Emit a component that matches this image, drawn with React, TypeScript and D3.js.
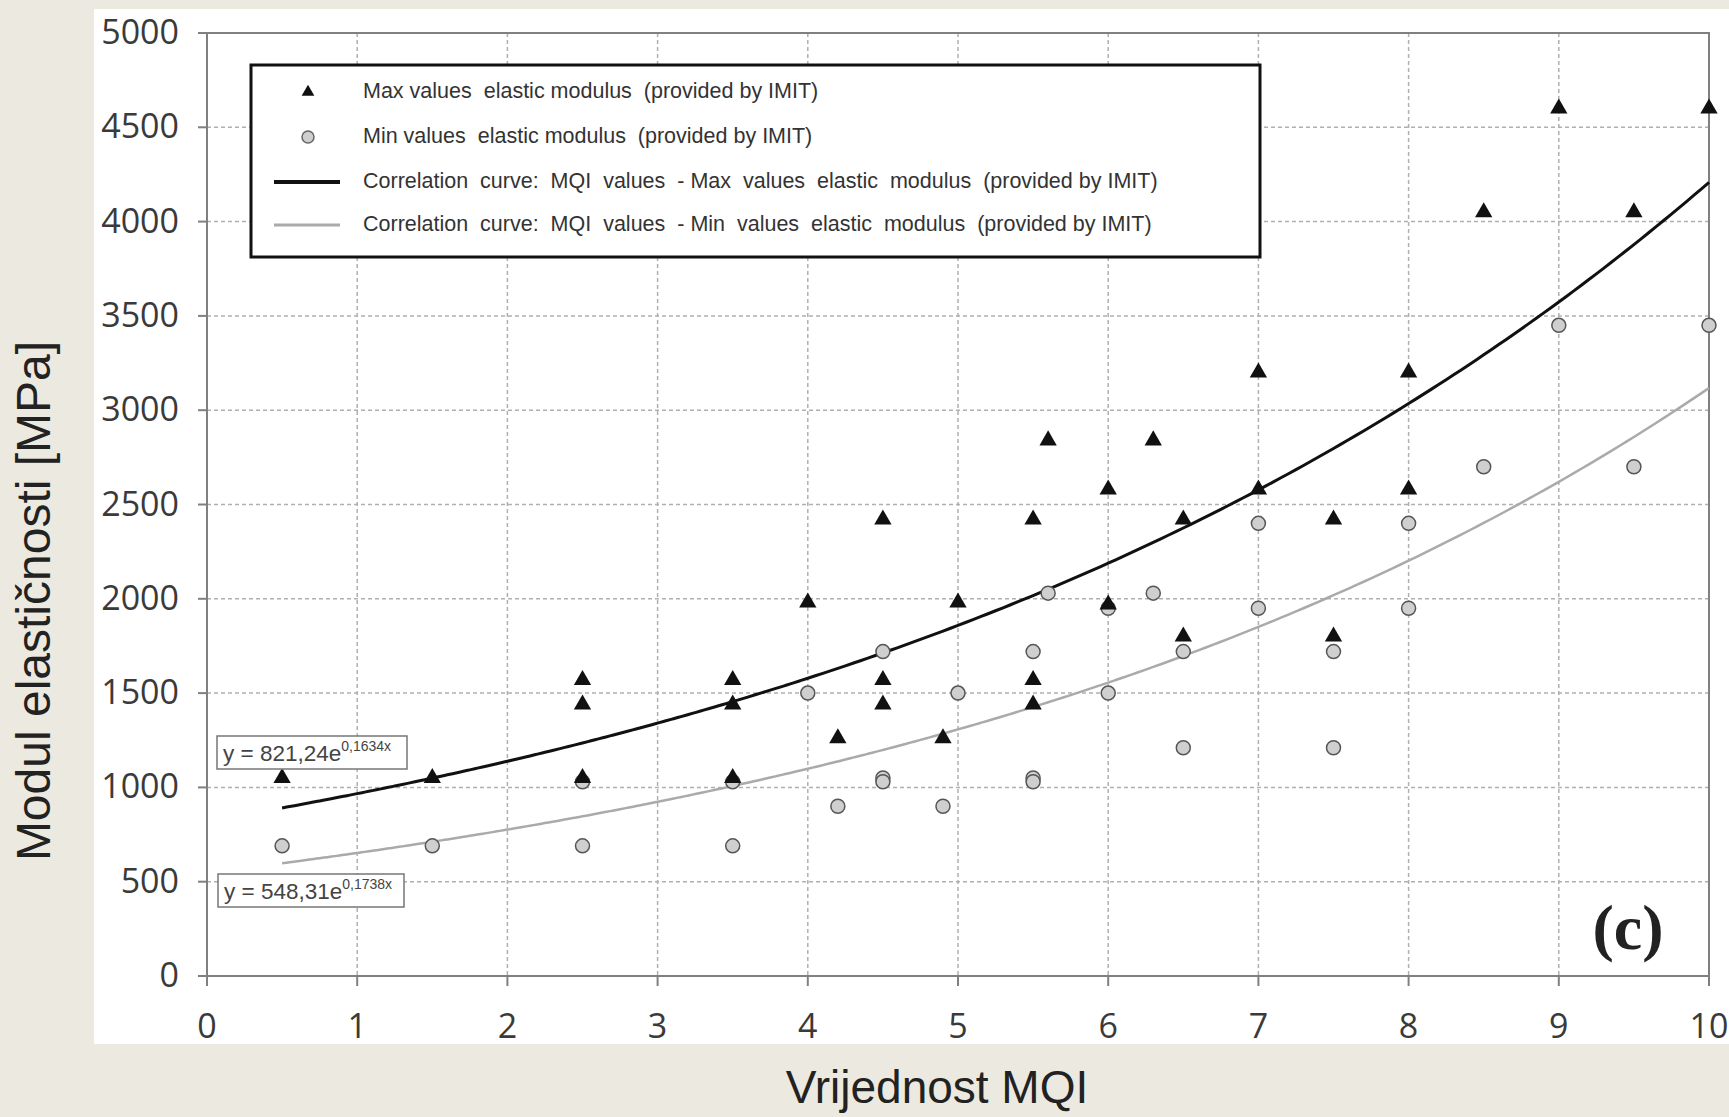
import React from "react";
import * as d3 from "d3";

// Max values elastic modulus (triangles)
const maxX = [0.5, 1.5, 2.5, 2.5, 2.5, 3.5, 3.5, 3.5, 4, 4.2, 4.5, 4.5, 4.5, 4.9, 5, 5.5, 5.5, 5.5, 5.6, 6, 6, 6.3, 6.5, 6.5, 7, 7, 7.5, 7.5, 8, 8, 8.5, 9, 9.5, 10];
const maxY = [1050, 1050, 1570, 1440, 1050, 1570, 1440, 1050, 1980, 1260, 2420, 1570, 1440, 1260, 1980, 2420, 1570, 1440, 2840, 2580, 1970, 2840, 2420, 1800, 3200, 2580, 2420, 1800, 3200, 2580, 4050, 4600, 4050, 4600];

// Min values elastic modulus (circles)
const minX = [0.5, 1.5, 2.5, 2.5, 3.5, 3.5, 4, 4.2, 4.5, 4.5, 4.5, 4.9, 5, 5.5, 5.5, 5.5, 5.6, 6, 6, 6.3, 6.5, 6.5, 7, 7, 7.5, 7.5, 8, 8, 8.5, 9, 9.5, 10];
const minY = [690, 690, 1030, 690, 1030, 690, 1500, 900, 1720, 1050, 1030, 900, 1500, 1720, 1050, 1030, 2030, 1950, 1500, 2030, 1720, 1210, 2400, 1950, 1720, 1210, 2400, 1950, 2700, 3450, 2700, 3450];

// trend lines printed on the chart: y = a * e^(b x)
const maxFit = { a: 821.24, b: 0.1634 };
const minFit = { a: 548.31, b: 0.1738 };
const fitRange = [0.5, 10];

const xTicks = [0, 1, 2, 3, 4, 5, 6, 7, 8, 9, 10];
const yTicks = [0, 500, 1000, 1500, 2000, 2500, 3000, 3500, 4000, 4500, 5000];

const legendLabels = [
  "Max values  elastic modulus  (provided by IMIT)",
  "Min values  elastic modulus  (provided by IMIT)",
  "Correlation  curve:  MQI  values  - Max  values  elastic  modulus  (provided by IMIT)",
  "Correlation  curve:  MQI  values  - Min  values  elastic  modulus  (provided by IMIT)",
];

const W = 1729,
  H = 1117;
const left = 207,
  right = 1709,
  top = 33,
  bottom = 976;

const tri = d3.symbol().type(d3.symbolTriangle).size(130)();
const triSmall = d3.symbol().type(d3.symbolTriangle).size(70)();

export default function App() {
  const x = d3.scaleLinear().domain([0, 10]).range([left, right]);
  const y = d3.scaleLinear().domain([0, 5000]).range([bottom, top]);

  const fitLine = (fit) =>
    d3
      .line()
      .x((d) => x(d))
      .y((d) => y(fit.a * Math.exp(fit.b * d)))
      .curve(d3.curveMonotoneX)(
      d3.range(fitRange[0], fitRange[1] + 0.001, 0.05)
    );

  const sans = "'Liberation Sans', Arial, sans-serif";
  const tickFont = "'Open Sans', 'Liberation Sans', sans-serif";

  return (
    <svg
      width={W}
      height={H}
      style={{ position: "absolute", left: 0, top: 0, display: "block" }}
    >
      <rect x={0} y={0} width={W} height={H} fill="#ECEAE0" />
      <rect x={94} y={9} width={W - 94} height={1035} fill="#ffffff" />

      {/* grid */}
      <g stroke="#b0b0b0" strokeWidth={1.5} strokeDasharray="4,3">
        {xTicks.slice(1, -1).map((t) => (
          <line key={"gx" + t} x1={x(t)} x2={x(t)} y1={top} y2={bottom} />
        ))}
        {yTicks.slice(1, -1).map((t) => (
          <line key={"gy" + t} x1={left} x2={right} y1={y(t)} y2={y(t)} />
        ))}
      </g>

      {/* frame + ticks */}
      <g stroke="#808080" strokeWidth={2} fill="none">
        <rect x={left} y={top} width={right - left} height={bottom - top} />
        {yTicks.map((t) => (
          <line key={"ty" + t} x1={left - 9} x2={left} y1={y(t)} y2={y(t)} />
        ))}
        {xTicks.map((t) => (
          <line key={"tx" + t} x1={x(t)} x2={x(t)} y1={bottom} y2={bottom + 10} />
        ))}
      </g>

      <g fontFamily={tickFont} fontSize={34} fill="#3a3a3a">
        {yTicks.map((t) => (
          <text key={"ly" + t} x={179} y={y(t) + 2} textAnchor="end" dominantBaseline="middle">
            {t}
          </text>
        ))}
        {xTicks.map((t) => (
          <text key={"lx" + t} x={x(t)} y={1038} textAnchor="middle">
            {t}
          </text>
        ))}
      </g>

      {/* fitted curves */}
      <path d={fitLine(minFit)} fill="none" stroke="#aaaaaa" strokeWidth={2.5} />
      <path d={fitLine(maxFit)} fill="none" stroke="#111111" strokeWidth={3} />

      {/* points */}
      <g>
        {minX.map((v, i) => (
          <circle
            key={"mn" + i}
            cx={x(v)}
            cy={y(minY[i])}
            r={7}
            fill="#cfcfcf"
            stroke="#555"
            strokeWidth={1.5}
          />
        ))}
        {maxX.map((v, i) => (
          <path
            key={"mx" + i}
            d={tri}
            transform={`translate(${x(v)},${y(maxY[i])})`}
            fill="#111"
          />
        ))}
      </g>

      {/* legend */}
      <g>
        <rect x={251} y={65} width={1009} height={192} fill="#fff" stroke="#111" strokeWidth={3} />
        <path d={triSmall} transform="translate(308,92)" fill="#111" />
        <circle cx={308} cy={137} r={6} fill="#cfcfcf" stroke="#666" strokeWidth={1.5} />
        <line x1={274} x2={340} y1={182} y2={182} stroke="#111" strokeWidth={4} />
        <line x1={274} x2={340} y1={225} y2={225} stroke="#aaaaaa" strokeWidth={3} />
        {legendLabels.map((l, i) => (
          <text
            key={"lg" + i}
            x={363}
            y={[92, 137, 182, 225][i]}
            dominantBaseline="middle"
            fontFamily={sans}
            fontSize={21.5}
            fill="#333"
            style={{ whiteSpace: "pre" }}
          >
            {l}
          </text>
        ))}
      </g>

      {/* equations */}
      <g fontFamily={sans} fill="#444">
        <rect x={217} y={736} width={190} height={33} fill="#fff" stroke="#777" strokeWidth={1.5} />
        <text x={223} y={761} fontSize={22.5}>
          y = 821,24e
          <tspan fontSize={14} dy={-10}>0,1634x</tspan>
        </text>
        <rect x={218} y={874} width={186} height={33} fill="#fff" stroke="#777" strokeWidth={1.5} />
        <text x={224} y={899} fontSize={22.5}>
          y = 548,31e
          <tspan fontSize={14} dy={-10}>0,1738x</tspan>
        </text>
      </g>

      <text
        x={1628}
        y={949}
        textAnchor="middle"
        fontFamily="'Liberation Serif', 'Times New Roman', serif"
        fontWeight="bold"
        fontSize={64}
        fill="#222"
      >
        (c)
      </text>

      {/* axis titles */}
      <text x={937} y={1103} textAnchor="middle" fontFamily={sans} fontSize={46} fill="#222">
        Vrijednost MQI
      </text>
      <text
        transform="translate(50,601) rotate(-90)"
        textAnchor="middle"
        fontFamily={sans}
        fontSize={48}
        fill="#222"
      >
        Modul elastičnosti [MPa]
      </text>
    </svg>
  );
}
